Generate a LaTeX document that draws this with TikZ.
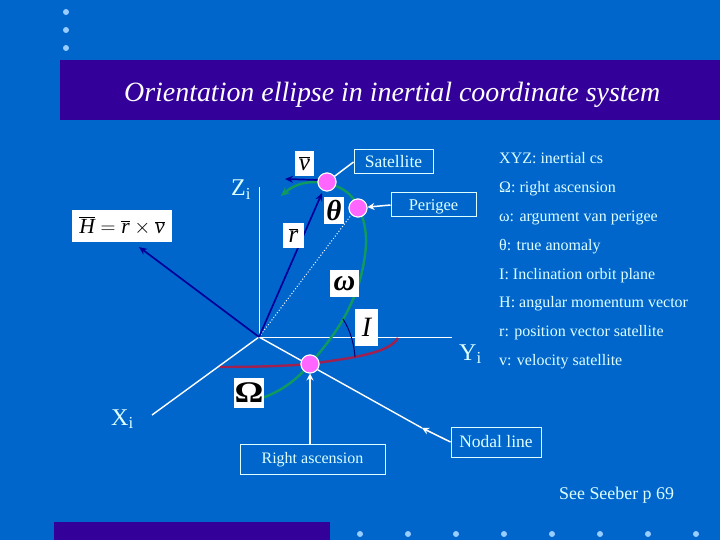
\documentclass[tikz,border=0pt]{standalone}
\usepackage{fontspec}
\setmainfont{Liberation Serif}
\usetikzlibrary{arrows.meta}
\definecolor{bgblue}{HTML}{0066CC}
\definecolor{band}{HTML}{330099}
\definecolor{dotblue}{HTML}{99CCFF}
\definecolor{pale}{HTML}{DDFFFF}
\definecolor{vecblue}{HTML}{000099}
\definecolor{orbit}{HTML}{109A60}
\definecolor{eqr}{HTML}{A0204F}
\definecolor{pinkpt}{HTML}{FF66FF}
\newcommand{\ovit}[1]{\overline{\hbox{\itshape #1}}}
\tikzset{
  x=1pt,y=-1pt,
  dotmark/.style={circle,fill=dotblue,draw=none,minimum size=6pt,inner sep=0pt},
  labelbox/.style={draw=pale,line width=1pt,text=pale,font=\fontsize{16.5}{18}\selectfont,inner sep=0pt,minimum height=24pt,text depth=2pt},
  whitebox/.style={fill=white,text=black,inner sep=0pt},
  legend/.style={anchor=base west,text=pale,font=\fontsize{16}{18}\selectfont,inner sep=0pt},
  axislabel/.style={anchor=base west,text=pale,font=\fontsize{24}{26}\selectfont,inner sep=0pt},
  point/.style={circle,fill=pinkpt,draw=white,line width=1pt,minimum size=18pt,inner sep=0pt},
  axis/.style={draw=white,line width=1pt},
  thickaxis/.style={draw=white,line width=1.4pt},
  vec/.style={draw=vecblue,line width=1.7pt,-{Stealth[length=8pt,width=7pt]}},
  pointer/.style={draw=white,line width=1.5pt,-{Stealth[length=7pt,width=7pt]}},
}
\begin{document}
\begin{tikzpicture}
\useasboundingbox (0,0) rectangle (720,540);
\fill[bgblue] (0,0) rectangle (720,540);
\fill[band] (60,60) rectangle (720,120);
\fill[band] (54,522) rectangle (330,540);
\foreach \i/\yy in {a/12,b/30,c/48} \node[dotmark] (dl\i) at (66,\yy) {};
\foreach \xx in {360,408,456,504,552,600,648,696} \node[dotmark] (db\xx) at (\xx,534) {};
\node[anchor=base west,text=white,inner sep=0pt,font=\fontsize{27.9}{30}\selectfont\itshape] (title) at (124,101.5) {Orientation ellipse in inertial coordinate system};

% coordinates
\coordinate (O) at (259,337);
\coordinate (Zend) at (259,187);
\coordinate (Yend) at (452,337);
\coordinate (Xend) at (152,415);
\coordinate (Nend) at (422,428);
\coordinate (Hend) at (139,247);
\coordinate (Vend) at (285,179);
\coordinate (Rend) at (322,193);
\coordinate (Iup) at (343,319);
\coordinate (Idn) at (355,357);

% axes
\draw[axis] (O) -- (Zend);
\draw[axis] (O) -- (Yend);
\draw[thickaxis] (O) -- (Xend);
\draw[thickaxis] (O) -- (Nend);

% curves
\draw[orbit,line width=2.4pt,-{Stealth[length=9pt,width=8pt]}] (262,398) .. controls (285,390) and (300,376) .. (310,364)
  .. controls (335,335) and (362,300) .. (366,245)
  .. controls (367,225) and (360,205) .. (350,195)
  .. controls (338,182) and (305,175) .. (281,196);
\draw[eqr,line width=2.4pt] (220,367) .. controls (255,367) and (285,366) .. (310,364)
  .. controls (330,361) and (345,359) .. (355,357)
  .. controls (375,353) and (392,348) .. (398,338);
\draw[vecblue!70!black,line width=1pt] (Iup) .. controls (350,330) and (354,343) .. (Idn);

% vectors
\draw[white,dotted,line width=1pt] (O) -- (352,214);
\draw[vec] (O) -- (Rend);
\draw[vec] (O) -- (Hend);
\draw[vec] (318,180) -- (Vend);

% white labels
\node[whitebox,minimum width=100pt,minimum height=32pt,font=\fontsize{21.5}{24}\selectfont] (H) at (122,226) {$\ovit{H}=\ovit{r}\times\ovit{v}$};
\node[whitebox,minimum width=19pt,minimum height=25pt,font=\fontsize{25}{27}\selectfont] (v) at (304.5,163.5) {$\ovit{v}$};
\node[whitebox,minimum width=21pt,minimum height=25pt,font=\fontsize{25}{27}\selectfont] (r) at (293.5,235.5) {$\ovit{r}$};
\node[whitebox,minimum width=20pt,minimum height=27pt,font=\fontsize{29}{30}\selectfont\bfseries\itshape] (theta) at (334,210.5) {θ};
\node[whitebox,minimum width=29pt,minimum height=27pt,font=\fontsize{30}{30}\selectfont\bfseries\itshape] (omega) at (344.5,283.5) {ω};
\node[whitebox,minimum width=23pt,minimum height=37pt,font=\fontsize{28}{30}\selectfont\itshape] (I) at (366.5,327.5) {I};
\node[whitebox,minimum width=30pt,minimum height=30pt,font=\fontsize{30}{30}\selectfont\bfseries] (Om) at (249,393) {\raisebox{-2pt}{\scalebox{1.2}[1]{Ω}}};

% points and boxes
\node[point] (sat) at (327,182) {};
\node[point] (per) at (358,208) {};
\node[point] (asc) at (310,364) {};
\node[labelbox,minimum width=79pt,font=\fontsize{17.5}{18}\selectfont,text height=14pt] (satbox) at (393.5,162) {Satellite};
\node[labelbox,minimum width=85pt,text height=14pt] (perbox) at (433.5,205) {Perigee};
\node[labelbox,minimum width=145pt,minimum height=30pt,font=\fontsize{16}{18}\selectfont,text height=10pt] (ascbox) at (312.5,459) {Right ascension};
\node[labelbox,minimum width=90pt,minimum height=30pt,font=\fontsize{17.5}{18}\selectfont,text height=12pt] (nodbox) at (496,442) {Nodal line};

% pointers
\draw[draw=white,line width=1.5pt] (satbox.west) -- (sat);
\draw[pointer] (perbox.west) -- (per);
\draw[pointer] (ascbox.north -| asc) -- (asc);
\draw[pointer] (nodbox.west) -- (Nend);
\node[point] at (sat) {};
\node[point] at (per) {};
\node[point] at (asc) {};

% axis labels
\node[axislabel] (zl) at (231,196) {Z\textsubscript{i}};
\node[axislabel] (yl) at (459,360) {Y\textsubscript{i}};
\node[axislabel] (xl) at (111,425) {X\textsubscript{i}};

% legend
\node[legend] (l1) at (499,163.5) {XYZ: inertial cs};
\node[legend] (l2) at (499,193) {Ω: right ascension};
\node[legend] (l3) at (499,222) {ω: argument van perigee};
\node[legend] (l4) at (499,250) {θ: true anomaly};
\node[legend] (l5) at (499,279) {I: Inclination orbit plane};
\node[legend] (l6) at (499,307) {H: angular momentum vector};
\node[legend] (l7) at (499,336) {r: position vector satellite};
\node[legend] (l8) at (499,365) {v: velocity satellite};
\node[anchor=base west,text=pale,inner sep=0pt,font=\fontsize{17.9}{20}\selectfont] (see) at (559,499) {See Seeber p 69};
\end{tikzpicture}
\end{document}
